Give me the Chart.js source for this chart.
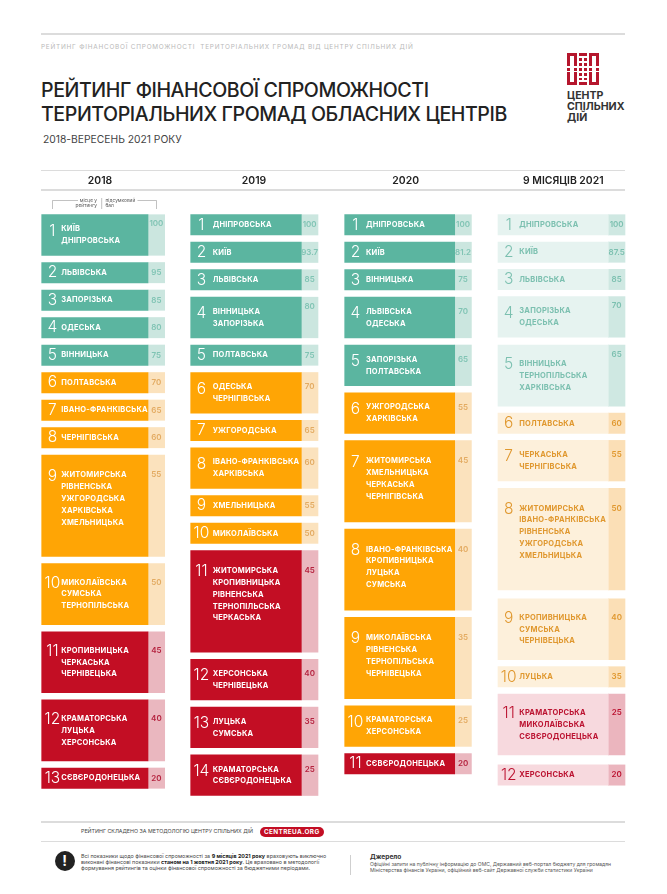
<html>
<head>
<meta charset="utf-8">
<style>
  body { margin: 0; background: #fff; width: 667px; height: 894px; overflow: hidden; position: relative; font-family: Inter, sans-serif; }
  .t { position: absolute; white-space: nowrap; line-height: 1; }
  .rule { position: absolute; left: 41px; width: 584px; height: 1.5px; background: #dcdcdc; }
  canvas { position: absolute; left: 0; top: 168px; }
</style>
</head>

<body>
<div class="rule" style="top:33px"></div>
<div class="t" style="left:41px;top:44px;font-size:6.4px;letter-spacing:.78px;color:#b9b9b9">РЕЙТИНГ ФІНАНСОВОЇ СПРОМОЖНОСТІ&nbsp; ТЕРИТОРІАЛЬНИХ ГРОМАД ВІД ЦЕНТРУ СПІЛЬНИХ ДІЙ</div>
<div class="t" style="left:41px;top:81px;font-size:19.6px;font-weight:500;letter-spacing:-.42px;color:#222">РЕЙТИНГ ФІНАНСОВОЇ СПРОМОЖНОСТІ</div>
<div class="t" style="left:41px;top:105px;font-size:19.6px;font-weight:500;letter-spacing:-.42px;color:#222">ТЕРИТОРІАЛЬНИХ ГРОМАД ОБЛАСНИХ ЦЕНТРІВ</div>
<div class="t" style="left:43px;top:133.5px;font-size:10.3px;color:#444">2018-ВЕРЕСЕНЬ 2021 РОКУ</div>

<svg style="position:absolute;left:567px;top:52.5px" width="32" height="32" viewBox="0 0 32 32" fill="#b5162d">
  <path d="M0 0h10v13H7V3H3v10H0zM22 0h10v13h-3V3h-4v10h-3zM0 32h10V19H7v10H3V19H0zM22 32h10V19h-3v10h-4V19h-3z"/>
  <path d="M12 0h8v3h-8zM12 29h8v3h-8zM0 15h3v3H0zM7 15h3v3H7zM22 15h3v3h-3zM29 15h3v3h-3z"/>
  <path d="M12 5h3v3h-3zM17 5h3v3h-3zM12 10h3v3h-3zM17 10h3v3h-3zM12 15h3v3h-3zM17 15h3v3h-3zM12 20h3v3h-3zM17 20h3v3h-3zM12 25h3v2h-3zM17 25h3v2h-3z"/>
</svg>
<div class="t" style="left:567px;top:90px;font-size:10.6px;font-weight:700;color:#333;line-height:11px">ЦЕНТР<br>СПІЛЬНИХ<br>ДІЙ</div>

<div class="rule" style="top:169.5px"></div>
<div class="rule" style="top:189px"></div>

<canvas id="chart" width="667" height="644"></canvas>

<svg style="position:absolute;left:0;top:195px" width="667" height="18" fill="none" stroke="#999" stroke-width=".6">
  <path d="M78 5.5H52.5V14M137.5 5.5H156.5V14M101.7 3V14"/>
</svg>
<div class="t" style="left:66px;width:31px;top:197.5px;font-size:4.8px;line-height:5.6px;color:#555;text-align:right">місце у<br>рейтингу</div>
<div class="t" style="left:105.5px;top:197.5px;font-size:4.8px;line-height:5.6px;color:#555">підсумковий<br>бал</div>

<div class="rule" style="top:821px"></div>
<div class="rule" style="top:840.5px"></div>
<div class="t" style="left:81px;top:828.8px;font-size:5.3px;color:#444">РЕЙТИНГ СКЛАДЕНО ЗА МЕТОДОЛОГІЮ ЦЕНТРУ СПІЛЬНИХ ДІЙ</div>
<div class="t" style="left:259.5px;top:826.5px;width:64.5px;height:10.5px;border-radius:6px;background:#c30e24;color:#fff;font-size:6.4px;font-weight:700;letter-spacing:.4px;line-height:10.5px;text-align:center">CENTREUA.ORG</div>

<div class="t" style="left:54.5px;top:851px;width:20px;height:20px;border-radius:10px;background:#222;color:#fff;font-size:14px;font-weight:700;line-height:20px;text-align:center">!</div>
<div class="t" style="left:81px;top:852.7px;font-size:5.4px;line-height:6.35px;color:#444">
  Всі показники щодо фінансової спроможності за <b style="color:#222">9 місяців 2021 року</b> враховують виключно<br>
  виконані фінансові показники <b style="color:#222">станом на 1 жовтня 2021 року</b>. Це враховано в методології<br>
  формування рейтингів та оцінки фінансової спроможності за бюджетними періодами.
</div>
<div style="position:absolute;left:350px;top:855px;width:1px;height:20px;background:#cfcfcf"></div>
<div class="t" style="left:370px;top:853.5px;font-size:6.6px;font-weight:700;color:#333">Джерело</div>
<div class="t" style="left:370px;top:862.3px;font-size:5.05px;line-height:5.8px;color:#555">
  Офіційні запити на публічну інформацію до ОМС, Державний веб-портал бюджету для громадян<br>
  Міністерства фінансів України, офіційний веб-сайт Державної служби статистики України
</div>

<script src="https://cdn.jsdelivr.net/npm/chart.js@4/dist/chart.umd.js"></script>

<script>
let yearLabels = ['2018', '2019', '2020', '9 МІСЯЦІВ 2021']

let names2018 = [
  ['КИЇВ', 'ДНІПРОВСЬКА'], ['ЛЬВІВСЬКА'], ['ЗАПОРІЗЬКА'], ['ОДЕСЬКА'], ['ВІННИЦЬКА'],
  ['ПОЛТАВСЬКА'], ['ІВАНО-ФРАНКІВСЬКА'], ['ЧЕРНІГІВСЬКА'],
  ['ЖИТОМИРСЬКА', 'РІВНЕНСЬКА', 'УЖГОРОДСЬКА', 'ХАРКІВСЬКА', 'ХМЕЛЬНИЦЬКА'],
  ['МИКОЛАЇВСЬКА', 'СУМСЬКА', 'ТЕРНОПІЛЬСЬКА'],
  ['КРОПИВНИЦЬКА', 'ЧЕРКАСЬКА', 'ЧЕРНІВЕЦЬКА'],
  ['КРАМАТОРСЬКА', 'ЛУЦЬКА', 'ХЕРСОНСЬКА'],
  ['СЄВЄРОДОНЕЦЬКА'],
]
let scores2018 = [100, 95, 85, 80, 75, 70, 65, 60, 55, 50, 45, 40, 20]

let names2019 = [
  ['ДНІПРОВСЬКА'], ['КИЇВ'], ['ЛЬВІВСЬКА'], ['ВІННИЦЬКА', 'ЗАПОРІЗЬКА'], ['ПОЛТАВСЬКА'],
  ['ОДЕСЬКА', 'ЧЕРНІГІВСЬКА'], ['УЖГОРОДСЬКА'], ['ІВАНО-ФРАНКІВСЬКА', 'ХАРКІВСЬКА'],
  ['ХМЕЛЬНИЦЬКА'], ['МИКОЛАЇВСЬКА'],
  ['ЖИТОМИРСЬКА', 'КРОПИВНИЦЬКА', 'РІВНЕНСЬКА', 'ТЕРНОПІЛЬСЬКА', 'ЧЕРКАСЬКА'],
  ['ХЕРСОНСЬКА', 'ЧЕРНІВЕЦЬКА'], ['ЛУЦЬКА', 'СУМСЬКА'], ['КРАМАТОРСЬКА', 'СЄВЄРОДОНЕЦЬКА'],
]
let scores2019 = [100, 93.7, 85, 80, 75, 70, 65, 60, 55, 50, 45, 40, 35, 25]

let names2020 = [
  ['ДНІПРОВСЬКА'], ['КИЇВ'], ['ВІННИЦЬКА'], ['ЛЬВІВСЬКА', 'ОДЕСЬКА'], ['ЗАПОРІЗЬКА', 'ПОЛТАВСЬКА'],
  ['УЖГОРОДСЬКА', 'ХАРКІВСЬКА'],
  ['ЖИТОМИРСЬКА', 'ХМЕЛЬНИЦЬКА', 'ЧЕРКАСЬКА', 'ЧЕРНІГІВСЬКА'],
  ['ІВАНО-ФРАНКІВСЬКА', 'КРОПИВНИЦЬКА', 'ЛУЦЬКА', 'СУМСЬКА'],
  ['МИКОЛАЇВСЬКА', 'РІВНЕНСЬКА', 'ТЕРНОПІЛЬСЬКА', 'ЧЕРНІВЕЦЬКА'],
  ['КРАМАТОРСЬКА', 'ХЕРСОНСЬКА'], ['СЄВЄРОДОНЕЦЬКА'],
]
let scores2020 = [100, 81.2, 75, 70, 65, 55, 45, 40, 35, 25, 20]

let names2021 = [
  ['ДНІПРОВСЬКА'], ['КИЇВ'], ['ЛЬВІВСЬКА'], ['ЗАПОРІЗЬКА', 'ОДЕСЬКА'],
  ['ВІННИЦЬКА', 'ТЕРНОПІЛЬСЬКА', 'ХАРКІВСЬКА'], ['ПОЛТАВСЬКА'], ['ЧЕРКАСЬКА', 'ЧЕРНІГІВСЬКА'],
  ['ЖИТОМИРСЬКА', 'ІВАНО-ФРАНКІВСЬКА', 'РІВНЕНСЬКА', 'УЖГОРОДСЬКА', 'ХМЕЛЬНИЦЬКА'],
  ['КРОПИВНИЦЬКА', 'СУМСЬКА', 'ЧЕРНІВЕЦЬКА'], ['ЛУЦЬКА'],
  ['КРАМАТОРСЬКА', 'МИКОЛАЇВСЬКА', 'СЄВЄРОДОНЕЦЬКА'], ['ХЕРСОНСЬКА'],
]
let scores2021 = [100, 87.5, 85, 70, 65, 60, 55, 50, 40, 35, 25, 20]

let allNames = [names2018, names2019, names2020, names2021]
let allScores = [scores2018, scores2019, scores2020, scores2021]

// layout, in page pixels (both scales run in pixels)
let lineHeight = 20.3
let firstTop = 22.7
let gap = 7.2
let gaps2021 = [7, 7, 7, 8, 7, 7, 7.3, 9, 7, 7, 10]
let mainLeft = [41.7, 190.7, 344.7, 498]
let mainWidth = [106.3, 110.6, 110, 110.3]
let scoreWidth = 16.7
let nameOffset = [19.5, 22, 21.3, 21.3]
let headerCenters = [100, 254, 405.7, 563.3]
let scoreAtTop = [[1], [4], [], [4, 5]]

let solid = { green: '#5bb5a0', orange: '#ffa505', red: '#c30e24' }
let solidScore = { green: '#cbe6df', orange: '#fbe2bd', red: '#eab7bf' }
let solidScoreText = { green: '#80c4b4', orange: '#e3ab62', red: '#b5233f' }
let pale = { green: '#e6f3f0', orange: '#fdf0db', red: '#f7d9de' }
let paleScore = { green: '#cfe8e2', orange: '#fbdfb6', red: '#ebb5be' }
let paleText = { green: '#7cc0b0', orange: '#e0982f', red: '#bb1230' }

function tier(rank) {
  if (rank <= 5) return 'green'
  if (rank <= 10) return 'orange'
  return 'red'
}

function blockRanges(names, col) {
  let top = firstTop
  return names.map((list, i) => {
    let range = [top, top + list.length * lineHeight]
    top = range[1] + (col === 3 ? gaps2021[i] : gap)
    return range
  })
}

let allRanges = allNames.map(blockRanges)

let datasets = []
allNames.forEach((names, col) => {
  let palette = col === 3 ? pale : solid
  let scorePalette = col === 3 ? paleScore : solidScore
  datasets.push({
    label: yearLabels[col] + ' місце',
    stack: 'all',
    barThickness: mainWidth[col],
    data: allRanges[col].map(r => ({ x: mainLeft[col] + mainWidth[col] / 2, y: r })),
    backgroundColor: names.map((n, i) => palette[tier(i + 1)]),
  })
  datasets.push({
    label: yearLabels[col] + ' бал',
    stack: 'all',
    barThickness: scoreWidth,
    data: allRanges[col].map(r => ({ x: mainLeft[col] + mainWidth[col] + scoreWidth / 2, y: r })),
    backgroundColor: names.map((n, i) => scorePalette[tier(i + 1)]),
  })
})

let blockLabels = {
  id: 'blockLabels',
  afterDatasetsDraw(chart) {
    let ctx = chart.ctx
    let xs = chart.scales.x
    let ys = chart.scales.y
    ctx.save()
    ctx.textBaseline = 'middle'
    allNames.forEach((names, col) => {
      names.forEach((list, i) => {
        let rank = i + 1
        let t = tier(rank)
        let [from, to] = allRanges[col][i]
        let n = list.length
        let lift = n >= 5 ? 7 : n === 4 ? 2.5 : 0
        let center = ys.getPixelForValue((from + to) / 2)
        let first = center - (n - 1) / 2 * 11.9 - lift
        let nameColor = col === 3 ? paleText[t] : '#fff'

        ctx.textAlign = 'left'
        ctx.font = '700 7.5px Inter'
        ctx.letterSpacing = '0.2px'
        ctx.fillStyle = nameColor
        list.forEach((name, k) => {
          ctx.fillText(name, xs.getPixelForValue(mainLeft[col] + nameOffset[col]), first + k * 11.9)
        })

        ctx.textAlign = 'center'
        ctx.font = '300 15.5px Inter'
        ctx.letterSpacing = '0px'
        ctx.fillStyle = nameColor
        let rankY = n === 1 ? center : n === 2 ? first + 2 : first + 1
        ctx.fillText(rank, xs.getPixelForValue(mainLeft[col] + 10.7), rankY)

        ctx.font = '600 8px Inter'
        ctx.fillStyle = col === 3 ? paleText[t] : solidScoreText[t]
        let scoreY = scoreAtTop[col].includes(rank) ? ys.getPixelForValue(from) + 9.3 : first
        ctx.fillText(allScores[col][i], xs.getPixelForValue(mainLeft[col] + mainWidth[col] + scoreWidth / 2), scoreY)
      })
    })
    ctx.restore()
  },
}

new Chart(document.getElementById('chart').getContext('2d'), {
  type: 'bar',
  data: { datasets },
  plugins: [blockLabels],
  options: {
    responsive: false,
    animation: false,
    layout: { padding: 0 },
    plugins: { legend: { display: false }, tooltip: { enabled: false }, title: { display: false } },
    scales: {
      x: {
        type: 'linear',
        offset: false,
        position: 'top',
        min: 0,
        max: 667,
        grid: { display: false },
        border: { display: false },
        afterBuildTicks(scale) { scale.ticks = headerCenters.map(value => ({ value })) },
        afterFit(scale) {
          scale.height = 24
          scale.paddingLeft = 0
          scale.paddingRight = 0
        },
        ticks: {
          autoSkip: false,
          maxRotation: 0,
          padding: -3,
          color: '#222',
          font: { family: 'Inter', size: 10.4, weight: '600' },
          callback: (value, i) => yearLabels[i],
        },
      },
      y: { display: false, stacked: false, reverse: true, min: 0, max: 620 },
    },
  },
})
</script>

</body>
</html>
